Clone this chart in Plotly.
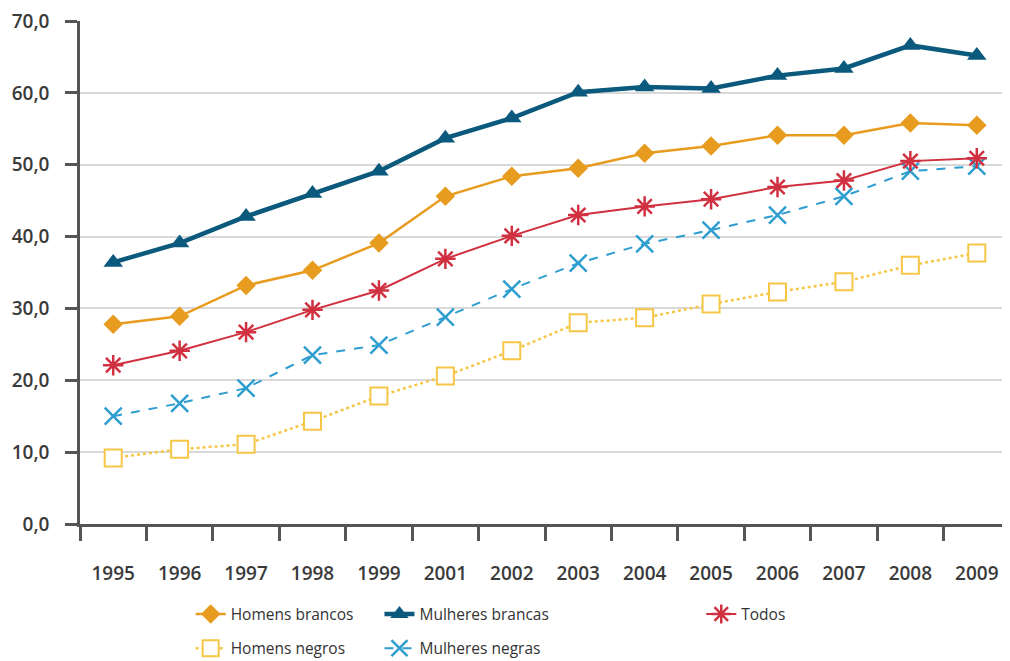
import plotly.graph_objects as go

years = ["1995", "1996", "1997", "1998", "1999", "2001", "2002", "2003",
         "2004", "2005", "2006", "2007", "2008", "2009"]
homens_brancos = [27.8, 28.9, 33.2, 35.3, 39.1, 45.6, 48.4, 49.5, 51.6, 52.6, 54.1, 54.1, 55.8, 55.5]
mulheres_brancas = [36.4, 39.1, 42.8, 46.0, 49.1, 53.7, 56.5, 60.1, 60.8, 60.6, 62.4, 63.4, 66.6, 65.2]
todos = [22.1, 24.1, 26.7, 29.8, 32.5, 36.9, 40.1, 43.0, 44.2, 45.2, 46.9, 47.8, 50.5, 50.9]
homens_negros = [9.2, 10.4, 11.1, 14.3, 17.8, 20.6, 24.1, 28.0, 28.7, 30.6, 32.3, 33.7, 36.0, 37.7]
mulheres_negras = [15.0, 16.8, 18.9, 23.5, 24.9, 28.8, 32.7, 36.3, 39.0, 40.9, 43.0, 45.6, 49.1, 49.8]

FONT = "Open Sans"
TICKFONT = dict(family=FONT, size=19, color="#3a3a3a", weight=600)
fig = go.Figure()

fig.add_trace(go.Scatter(
    x=years, y=homens_brancos, name="Homens brancos", mode="lines+markers",
    line=dict(color="#e89c1f", width=2.5),
    marker=dict(symbol="diamond", size=15, color="#e89c1f"),
    legend="legend", legendgroup="a"))
fig.add_trace(go.Scatter(
    x=years, y=homens_negros, name="Homens negros", mode="lines+markers",
    line=dict(color="#f6c646", width=2.5, dash="dot"),
    marker=dict(symbol="square", size=17, color="white",
                line=dict(color="#f6c646", width=2)),
    legend="legend", legendgroup="b"))
fig.add_trace(go.Scatter(
    x=years, y=mulheres_brancas, name="Mulheres brancas", mode="lines+markers",
    line=dict(color="#0b5a7d", width=4.5),
    marker=dict(symbol="triangle-up", size=17, color="#0b5a7d"),
    legend="legend2", legendgroup="c"))
fig.add_trace(go.Scatter(
    x=years, y=mulheres_negras, name="Mulheres negras", mode="lines+markers",
    line=dict(color="#2e9dcf", width=2, dash="dash"),
    marker=dict(symbol="x-thin-open", size=17, color="#2e9dcf",
                line=dict(color="#2e9dcf", width=2.5)),
    legend="legend2", legendgroup="d"))
fig.add_trace(go.Scatter(
    x=years, y=todos, name="Todos", mode="lines+markers",
    line=dict(color="#d0303f", width=2),
    marker=dict(symbol="asterisk-open", size=17, color="#d0303f",
                line=dict(color="#d0303f", width=2.5)),
    legend="legend3", legendgroup="e"))

leg_common = dict(orientation="v", yanchor="top", y=-0.146, xanchor="left",
                  font=dict(family=FONT, size=15.5, color="#333333"),
                  bgcolor="rgba(0,0,0,0)", tracegroupgap=11, itemwidth=30)

fig.update_layout(
    width=1002, height=653,
    margin=dict(l=72, r=0, t=13, b=137, autoexpand=False),
    paper_bgcolor="white", plot_bgcolor="white",
    separators=",.",
    font=dict(family=FONT, color="#333333"),
    showlegend=True,
    legend=dict(x=0.119, **leg_common),
    legend2=dict(x=0.322, **leg_common),
    legend3=dict(x=0.668, **leg_common),
)
fig.update_xaxes(
    type="category", range=[-0.5, 13.5], tickson="boundaries",
    showline=True, linecolor="#555555", linewidth=2.5,
    ticks="outside", ticklen=14, tickwidth=2.5, tickcolor="#555555",
    showgrid=False, zeroline=False, automargin=False,
    tickfont=TICKFONT, ticklabeloverflow="allow",
    ticklabelstandoff=30,
)
fig.update_yaxes(
    range=[0, 70], dtick=10, tickformat=".1f",
    showline=True, linecolor="#555555", linewidth=2.5,
    ticks="outside", ticklen=12, tickwidth=2.5, tickcolor="#555555",
    showgrid=True, gridcolor="#d9d9d9", gridwidth=2, zeroline=False,
    automargin=False,
    tickfont=TICKFONT, ticklabeloverflow="allow",
    ticklabelstandoff=12,
)

fig.write_html("out.html")
